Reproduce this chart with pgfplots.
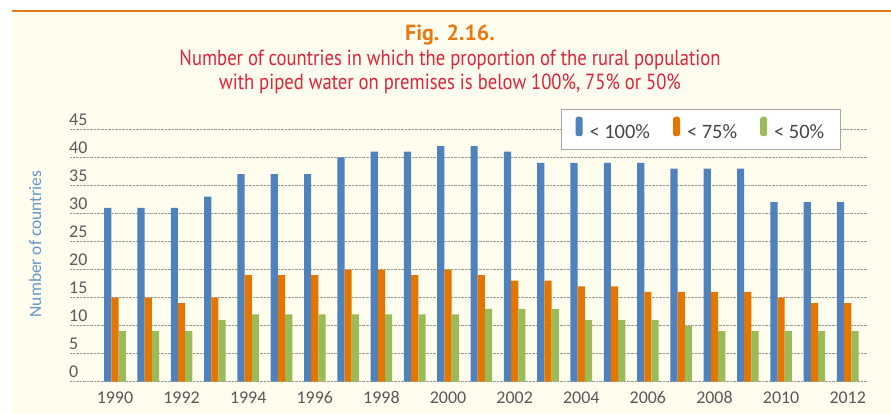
\documentclass[border=0pt]{standalone}
\usepackage{fontspec}
\usepackage{pgfplots}
\pgfplotsset{compat=1.18}
\setmainfont{Carlito}
\newfontfamily\titlefont[FakeStretch=0.85]{PT Sans}
\newfontfamily\figfont{PT Sans}
\definecolor{cream}{RGB}{255,253,238}
\definecolor{topline}{RGB}{232,122,30}
\definecolor{figorange}{RGB}{232,120,15}
\definecolor{titlered}{RGB}{222,35,60}
\definecolor{barblue}{RGB}{79,129,189}
\definecolor{barorange}{RGB}{228,118,0}
\definecolor{bargreen}{RGB}{155,187,89}
\definecolor{ticktext}{RGB}{89,89,89}
\definecolor{legtext}{RGB}{70,70,70}
\definecolor{ylab}{RGB}{100,152,205}
\begin{document}
\begin{tikzpicture}
\path[use as bounding box, fill=white] (0,0) rectangle (891bp,414bp);
\fill[cream] (12bp,0) rectangle (891bp,403bp);
\draw[topline, line width=1.3bp] (12bp,403bp) -- (891bp,403bp);
\node[anchor=base, text=figorange, font=\figfont\bfseries\fontsize{22}{24}\selectfont] at (450bp,373bp) {Fig. 2.16.};
\node[anchor=base, text=titlered, font=\titlefont\fontsize{22}{24}\selectfont] at (450bp,348bp) {Number of countries in which the proportion of the rural population};
\node[anchor=base, text=titlered, font=\titlefont\fontsize{22}{24}\selectfont] at (450bp,324bp) {with piped water on premises is below 100\%, 75\% or 50\%};
\begin{axis}[
  at={(70bp,32.3bp)}, anchor=south west,
  width=796.7bp, height=252.4bp, scale only axis,
  ybar=0pt, bar width=7.2bp,
  xmin=1988.65, xmax=2012.57, ymin=0, ymax=45,
  xtick={1990,1992,...,2012},
  xticklabels={1990,1992,1994,1996,1998,2000,2002,2004,2006,2008,2010,2012},
  ytick={0,5,...,45},
  ymajorgrids, major grid style={densely dotted, gray!80, line width=0.8bp},
  axis line style={draw=none},
  major tick length=0pt,
  tick style={draw=none},
  /pgf/number format/assume math mode=true,
  ticklabel style={font=\fontsize{18}{20}\selectfont, text=ticktext},
  xticklabel style={anchor=base, yshift=-21.6bp, inner sep=0pt},
  yticklabel style={anchor=base west, xshift=-1bp, yshift=3.8bp, inner sep=0pt},
  ylabel={Number of countries},
  ylabel style={at={(axis description cs:-0.0439,0.5456)}, anchor=center, font=\fontsize{17.5}{20}\selectfont, text=ylab},
  legend columns=3,
  legend style={at={(axis description cs:0.6159,1.0)}, anchor=west, draw=gray!70, line width=0.8bp, fill=white, inner xsep=14.5bp, inner ysep=7bp, font=\fontsize{20.5}{22}\selectfont, text=legtext, nodes={inner sep=2bp}, /tikz/every even column/.append style={column sep=21bp}},
  legend image code/.code={\fill[#1, rounded corners=2.5bp] (0bp,-4bp) rectangle (7bp,15.5bp); \path (12bp,0bp);},
]
\addplot[fill=barblue, draw=none] coordinates {(1990,31) (1991,31) (1992,31) (1993,33) (1994,37) (1995,37) (1996,37) (1997,40) (1998,41) (1999,41) (2000,42) (2001,42) (2002,41) (2003,39) (2004,39) (2005,39) (2006,39) (2007,38) (2008,38) (2009,38) (2010,32) (2011,32) (2012,32)};
\addplot[fill=barorange, draw=none] coordinates {(1990,15) (1991,15) (1992,14) (1993,15) (1994,19) (1995,19) (1996,19) (1997,20) (1998,20) (1999,19) (2000,20) (2001,19) (2002,18) (2003,18) (2004,17) (2005,17) (2006,16) (2007,16) (2008,16) (2009,16) (2010,15) (2011,14) (2012,14)};
\addplot[fill=bargreen, draw=none] coordinates {(1990,9) (1991,9) (1992,9) (1993,11) (1994,12) (1995,12) (1996,12) (1997,12) (1998,12) (1999,12) (2000,12) (2001,13) (2002,13) (2003,13) (2004,11) (2005,11) (2006,11) (2007,10) (2008,9) (2009,9) (2010,9) (2011,9) (2012,9)};
\legend{< 100\%, < 75\%, < 50\%}
\end{axis}
\end{tikzpicture}
\end{document}
